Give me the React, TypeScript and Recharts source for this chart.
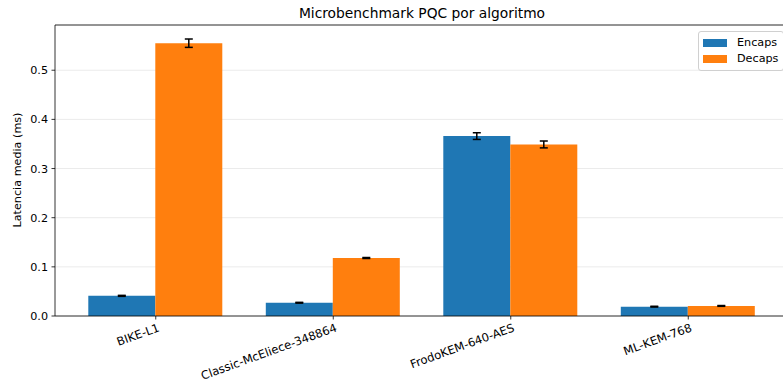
import React from "react";
import {
  BarChart,
  Bar,
  XAxis,
  YAxis,
  CartesianGrid,
  ErrorBar,
  ReferenceLine,
} from "recharts";

const algorithms = [
  "BIKE-L1",
  "Classic-McEliece-348864",
  "FrodoKEM-640-AES",
  "ML-KEM-768",
];
const encaps = [0.041, 0.027, 0.366, 0.019];
const encapsErr = [0.001, 0.0008, 0.0068, 0.0008];
const decaps = [0.555, 0.118, 0.349, 0.0205];
const decapsErr = [0.0085, 0.001, 0.007, 0.0008];
const yTicks = [0, 0.1, 0.2, 0.3, 0.4, 0.5];
const yMax = 0.592;

const FONT = "'DejaVu Sans', sans-serif";
const BLUE = "#1f77b4";
const ORANGE = "#ff7f0e";
const FS = 11.2;

const data = algorithms.map((name, i) => ({
  name,
  encaps: encaps[i],
  encapsErr: encapsErr[i],
  decaps: decaps[i],
  decapsErr: decapsErr[i],
}));

const XTick = (props: any) => {
  const { x, y, payload } = props;
  return (
    <g transform={`translate(${x + 1},${y})`}>
      <text
        x={0}
        y={0}
        dy={10}
        textAnchor="end"
        transform="rotate(-20)"
        fontFamily={FONT}
        fontSize={11.6}
        fill="#000"
      >
        {payload.value}
      </text>
    </g>
  );
};

const LegendBox = () => (
  <div
    style={{
      position: "absolute",
      top: 31,
      left: 698,
      width: 86,
      boxSizing: "border-box",
      border: "1px solid #d0d0d0",
      borderRadius: 3,
      background: "rgba(255,255,255,0.8)",
      padding: "3px 4px 3px 4px",
      fontFamily: FONT,
      fontSize: FS,
      lineHeight: "16px",
    }}
  >
    {[
      { label: "Encaps", color: BLUE },
      { label: "Decaps", color: ORANGE },
    ].map((e) => (
      <div key={e.label} style={{ display: "flex", alignItems: "center" }}>
        <span
          style={{
            display: "inline-block",
            width: 24,
            height: 8,
            background: e.color,
            marginRight: 10,
          }}
        />
        <span>{e.label}</span>
      </div>
    ))}
  </div>
);

export default function App() {
  return (
    <div
      style={{
        position: "absolute",
        left: 0,
        top: 0,
        width: 783,
        height: 383,
        overflow: "hidden",
        background: "#fff",
      }}
    >
      <div
        style={{
          position: "absolute",
          top: 5,
          left: 55,
          width: 734,
          textAlign: "center",
          fontFamily: FONT,
          fontSize: 13.8,
          color: "#000",
        }}
      >
        Microbenchmark PQC por algoritmo
      </div>
      <div
        style={{
          position: "absolute",
          left: 17,
          top: 170,
          transform: "translate(-50%, -50%) rotate(-90deg)",
          whiteSpace: "nowrap",
          fontFamily: FONT,
          fontSize: FS,
          color: "#000",
        }}
      >
        Latencia media (ms)
      </div>
      <BarChart
        width={800}
        height={383}
        data={data}
        margin={{ top: 25, right: 11, left: 0, bottom: 17 }}
        barCategoryGap="12%"
        barGap={0}
      >
        <CartesianGrid vertical={false} stroke="#ebebeb" strokeWidth={1} />
        <XAxis
          dataKey="name"
          interval={0}
          padding={{ left: 12, right: 12 }}
          height={50}
          tickSize={3.5}
          tickLine={{ stroke: "#000", strokeWidth: 0.8 }}
          axisLine={{ stroke: "#000", strokeWidth: 0.8 }}
          tick={<XTick />}
        />
        <YAxis
          width={55}
          domain={[0, yMax]}
          ticks={yTicks}
          allowDataOverflow
          tickSize={3.5}
          tickMargin={3.5}
          tickFormatter={(v: number) => v.toFixed(1)}
          tickLine={{ stroke: "#000", strokeWidth: 0.8 }}
          axisLine={{ stroke: "#000", strokeWidth: 0.8 }}
          tick={{ fontFamily: FONT, fontSize: FS, fill: "#000" }}
        />
        <ReferenceLine y={yMax} stroke="#000" strokeWidth={0.8} />
        <Bar dataKey="encaps" name="Encaps" fill={BLUE} isAnimationActive={false}>
          <ErrorBar dataKey="encapsErr" width={4} stroke="#000" strokeWidth={1.5} />
        </Bar>
        <Bar dataKey="decaps" name="Decaps" fill={ORANGE} isAnimationActive={false}>
          <ErrorBar dataKey="decapsErr" width={4} stroke="#000" strokeWidth={1.5} />
        </Bar>
      </BarChart>
      <LegendBox />
    </div>
  );
}
